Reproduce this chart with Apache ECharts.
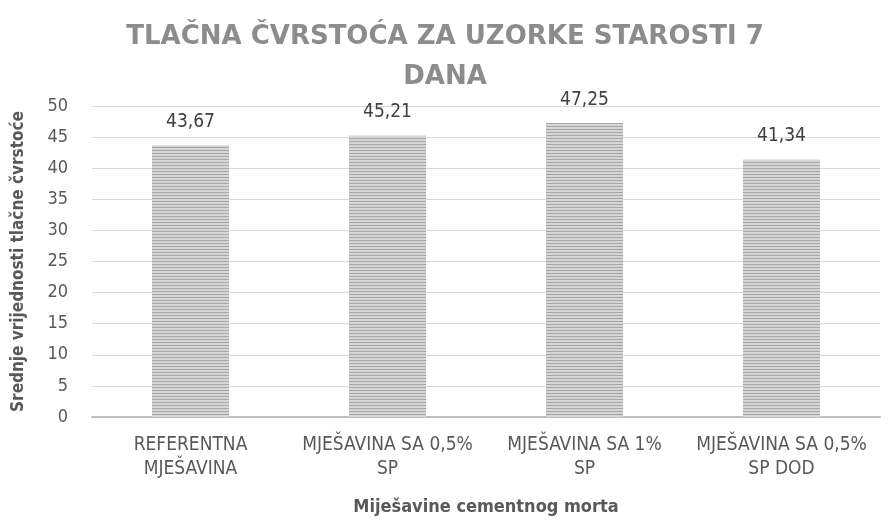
<!DOCTYPE html>
<html>
<head>
<meta charset="utf-8">
<script src="https://cdn.jsdelivr.net/npm/echarts@6/dist/echarts.min.js"></script>
<style>
html,body{margin:0;padding:0;background:#fff;}
#chart{width:890px;height:520px;}
</style>
</head>
<body>
<div id="chart"></div>
<script>
var categories = ['REFERENTNA\nMJEŠAVINA', 'MJEŠAVINA SA 0,5%\nSP', 'MJEŠAVINA SA 1%\nSP', 'MJEŠAVINA SA 0,5%\nSP DOD'];
var values = [43.67, 45.21, 47.25, 41.34];
var yTicks = [0, 5, 10, 15, 20, 25, 30, 35, 40, 45, 50];

var FONT = '"DejaVu Sans Condensed", "Liberation Sans Narrow", sans-serif';

// horizontal stripe fill for bars
function stripePattern()
{
	var c = document.createElement('canvas');
	c.width = 4; c.height = 3;
	var ctx = c.getContext('2d');
	ctx.fillStyle = '#d6d6d6';
	ctx.fillRect(0, 0, 4, 3);
	ctx.fillStyle = '#a6a6a6';
	ctx.fillRect(0, 0, 4, 1);
	return { image: c, repeat: 'repeat' };
}

var myChart = echarts.init(document.getElementById('chart'));
var option = {
	backgroundColor: '#fff',
	title: {
		text: 'TLAČNA ČVRSTOĆA ZA UZORKE STAROSTI 7\nDANA',
		left: 'center',
		top: 12,
		textStyle: {
			fontFamily: '"DejaVu Sans", sans-serif',
			fontSize: 26,
			fontWeight: 'bold',
			color: '#8c8c8c',
			lineHeight: 40
		}
	},
	grid: { left: 92, right: 10, top: 106, bottom: 103, containLabel: false, outerBoundsMode: 'none' },
	xAxis: {
		type: 'category',
		data: categories,
		name: 'Miješavine cementnog morta',
		nameLocation: 'middle',
		nameGap: 81,
		nameTextStyle: { fontFamily: FONT, fontSize: 18, fontWeight: 'bold', color: '#595959' },
		axisLine: { lineStyle: { color: '#bfbfbf', width: 2 } },
		axisTick: { show: false },
		axisLabel: { fontFamily: FONT, fontSize: 19, color: '#595959', lineHeight: 24, margin: 16, interval: 0 }
	},
	yAxis: {
		type: 'value',
		min: yTicks[0],
		max: yTicks[yTicks.length - 1],
		interval: 5,
		name: 'Srednje vrijednosti tlačne čvrstoće',
		nameLocation: 'middle',
		nameGap: 65,
		nameTextStyle: { fontFamily: FONT, fontSize: 17, fontWeight: 'bold', color: '#595959' },
		axisLine: { show: false },
		axisTick: { show: false },
		axisLabel: { fontFamily: FONT, fontSize: 18, color: '#595959', margin: 24 },
		splitLine: { lineStyle: { color: '#d9d9d9', width: 1 } }
	},
	series: [{
		type: 'bar',
		data: values,
		barWidth: 77,
		itemStyle: { color: stripePattern() },
		label: {
			show: true,
			position: 'top',
			distance: 14,
			fontFamily: FONT,
			fontSize: 19,
			color: '#404040',
			formatter: function (p) { return p.value.toFixed(2).replace('.', ','); }
		}
	}]
};
myChart.setOption(option);
</script>
</body>
</html>
